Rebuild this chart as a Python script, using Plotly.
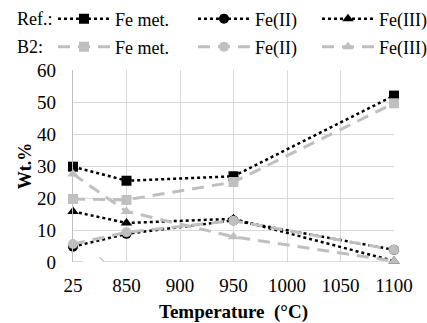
import plotly.graph_objects as go

# x positions: 25 °C is placed at the slot of 800 (axis break)
temps_label = ["25", "850", "900", "950", "1000", "1050", "1100"]
tick_pos = [800, 850, 900, 950, 1000, 1050, 1100]
x_pts = [800, 850, 950, 1100]  # 25, 850, 950, 1100 °C

ref_fe_met = [29.8, 25.4, 26.8, 52.0]
ref_fe2 = [4.8, 8.8, 13.0, 3.8]
ref_fe3 = [15.8, 12.2, 13.5, 0.3]
b2_fe_met = [19.7, 19.4, 25.0, 49.6]
b2_fe2 = [5.6, 9.3, 12.9, 3.8]
b2_fe3 = [27.5, 15.8, 7.9, 0.3]

FONT = "Liberation Serif"
GREY = "#bfbfbf"

fig = go.Figure()

def add(y, name, sym, color, dash, width, legend):
    fig.add_trace(go.Scatter(
        x=x_pts, y=y, name=name, mode="lines+markers",
        line=dict(color=color, dash=dash, width=width),
        marker=dict(symbol=sym, size=10, color=color),
        cliponaxis=False, legend=legend))

add(ref_fe_met, "Fe met.", "square", "black", "dot", 2.5, "legend")
add(ref_fe2, "Fe(II)", "circle", "black", "dot", 2.5, "legend2")
add(ref_fe3, "Fe(III)", "triangle-up", "black", "dot", 2.5, "legend3")
add(b2_fe_met, "Fe met.", "square", GREY, "12px,8px", 3, "legend4")
add(b2_fe2, "Fe(II)", "circle", GREY, "12px,8px", 3, "legend5")
add(b2_fe3, "Fe(III)", "triangle-up", GREY, "12px,8px", 3, "legend6")

# axis break decoration on bottom axis
brk = dict(type="line", xref="x", yref="y", line=dict(color="#bfbfbf", width=1.2))
fig.add_shape(x0=800, x1=809, y0=0, y1=0, **brk)
fig.add_shape(x0=809, x1=817, y0=0, y1=-1.6, **brk)
fig.add_shape(x0=825, x1=829, y0=1.5, y1=0, **brk)
fig.add_shape(x0=829, x1=1100, y0=0, y1=0, **brk)

leg_common = dict(orientation="h", font=dict(family=FONT, size=18, color="black"),
                  bgcolor="rgba(0,0,0,0)", xanchor="left", yanchor="middle",
                  itemwidth=52)
row1, row2 = 1.266, 1.120
cols = [-0.0623, 0.3738, 0.7601]

fig.update_layout(
    width=427, height=323,
    margin=dict(l=73, r=33, t=70, b=61, autoexpand=False),
    paper_bgcolor="white", plot_bgcolor="white",
    font=dict(family=FONT, size=18, color="black"),
    legend=dict(x=cols[0], y=row1, **leg_common),
    legend2=dict(x=cols[1], y=row1, **leg_common),
    legend3=dict(x=cols[2], y=row1, **leg_common),
    legend4=dict(x=cols[0], y=row2, **leg_common),
    legend5=dict(x=cols[1], y=row2, **leg_common),
    legend6=dict(x=cols[2], y=row2, **leg_common),
    xaxis=dict(range=[800, 1100], tickvals=tick_pos, ticktext=temps_label,
               showgrid=True, gridcolor="#d9d9d9", gridwidth=1.2,
               zeroline=False, showline=False, ticks="",
               tickfont=dict(family=FONT, size=19), ticklabelstandoff=10,
               title=dict(text="<b>Temperature  (°C)</b>",
                          font=dict(family=FONT, size=19), standoff=10)),
    yaxis=dict(range=[0, 60], dtick=10, showgrid=True, gridcolor="#d9d9d9",
               gridwidth=1.2, zeroline=False, showline=True, linecolor="#bfbfbf",
               linewidth=1.2, ticks="", tickfont=dict(family=FONT, size=19),
               ticklabelstandoff=12,
               title=dict(text="<b>Wt.%</b>", font=dict(family=FONT, size=18),
                          standoff=0)),
    showlegend=True,
)
fig.add_annotation(text="Ref.:", xref="paper", yref="paper", x=-0.1807, y=row1,
                   xanchor="left", yanchor="middle", showarrow=False,
                   font=dict(family=FONT, size=18))
fig.add_annotation(text="B2:", xref="paper", yref="paper", x=-0.1807, y=row2,
                   xanchor="left", yanchor="middle", showarrow=False,
                   font=dict(family=FONT, size=18))

fig.write_html("out.html")
